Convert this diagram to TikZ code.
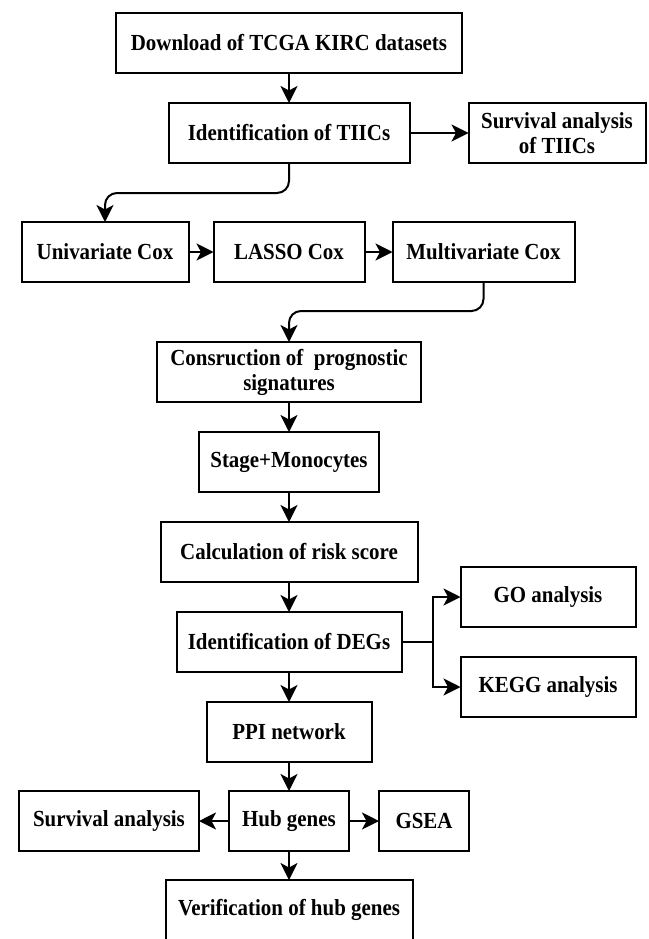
\documentclass[tikz,border=0pt]{standalone}
\usepackage{fontspec}
\newfontfamily\boxfont[FakeStretch=0.91]{Liberation Serif}
\usetikzlibrary{arrows.meta,positioning}

\begin{document}
\begin{tikzpicture}[
    x=1pt, y=-1pt,
    node distance=30pt,
    box/.style={rectangle,draw,line width=2pt,fill=white,minimum height=60pt,outer sep=0pt,
      align=center,inner sep=2pt,font=\boxfont\bfseries\fontsize{23}{25}\selectfont},
    arrow/.style={-{Stealth[length=17pt,width=17pt,inset=4.5pt]},line width=2pt}
  ]
    \useasboundingbox (0,0) rectangle (648,939);
    \clip (0,0) rectangle (648,939);

    \node[box,minimum width=346pt] (download) at (289,43) {Download of TCGA KIRC datasets};
    \node[box,minimum width=241pt,below=of download] (tiic) {Identification of TIICs};
    \node[box,minimum width=177pt,right=59pt of tiic] (tiicsurv) {Survival analysis\\of TIICs};
    \node[box,minimum width=151pt,below=59pt of tiic] (lasso) {LASSO Cox};
    \node[box,minimum width=167pt,left=25pt of lasso] (unicox) {Univariate Cox};
    \node[box,minimum width=182pt,right=28pt of lasso] (multicox) {Multivariate Cox};
    \node[box,minimum width=264pt,below=60pt of lasso] (signature) {Consruction of~ prognostic\\signatures};
    \node[box,minimum width=180pt,below=of signature] (stagemono) {Stage+Monocytes};
    \node[box,minimum width=257pt,below=of stagemono] (riskscore) {Calculation of risk score};
    \node[box,minimum width=225pt,below=of riskscore] (degs) {Identification of DEGs};
    \node[box,minimum width=175pt,right=59pt of degs,yshift=45pt] (goan) {GO analysis};
    \node[box,minimum width=175pt,right=59pt of degs,yshift=-45pt] (keggan) {KEGG analysis};
    \node[box,minimum width=165pt,below=of degs] (ppi) {PPI network};
    \node[box,minimum width=120pt,below=29pt of ppi] (hub) {Hub genes};
    \node[box,minimum width=180pt,left=of hub] (hubsurv) {Survival analysis};
    \node[box,minimum width=90pt,right=of hub] (gsea) {GSEA};
    \node[box,minimum width=247pt,below=29pt of hub] (verify) {Verification of hub genes};

    \draw[arrow] (download) -- (tiic);
    \draw[arrow] (tiic) -- (tiicsurv);
    \draw[arrow,rounded corners=12pt] (tiic.south) -- ++(0,30) -| (unicox.north);
    \draw[arrow] (unicox) -- (lasso);
    \draw[arrow] (lasso) -- (multicox);
    \draw[arrow,rounded corners=12pt] (multicox.south) -- ++(0,29) -| (signature.north);
    \draw[arrow] (signature) -- (stagemono);
    \draw[arrow] (stagemono) -- (riskscore);
    \draw[arrow] (riskscore) -- (degs);
    \draw[arrow] (degs.east) -- ++(31,0) |- (goan.west);
    \draw[arrow] (degs.east) -- ++(31,0) |- (keggan.west);
    \draw[arrow] (degs) -- (ppi);
    \draw[arrow] (ppi) -- (hub);
    \draw[arrow] (hub) -- (hubsurv);
    \draw[arrow] (hub) -- (gsea);
    \draw[arrow] (hub) -- (verify);
\end{tikzpicture}
\end{document}
